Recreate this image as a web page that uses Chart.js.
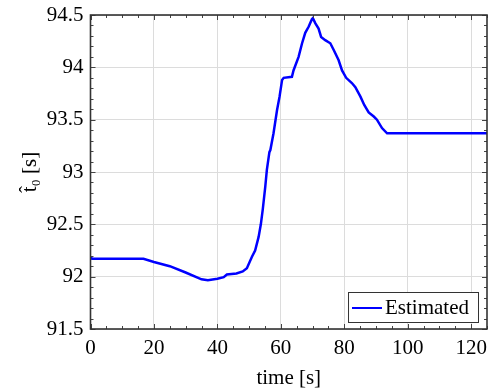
<!DOCTYPE html>
<html>
<head>
<meta charset="utf-8">
<script src="https://cdn.jsdelivr.net/npm/chart.js@4.4.0/dist/chart.umd.min.js"></script>
<style>
  html, body { margin: 0; padding: 0; background: #fff; }
  #wrap { width: 491px; height: 391px; }
</style>
</head>
<body>
<div id="wrap"><canvas id="t0_canvas" width="491" height="391"></canvas></div>
<script>
// data
const times = [0, 0.5, 16.7, 20, 25, 30, 35, 37, 40, 42, 43, 46, 48, 49.3, 50.9, 51.9, 53, 53.7, 54.3, 55.1, 55.6, 56.4, 56.7, 57.7, 58.8, 59.6, 60.4, 60.9, 63.5, 64, 65.6, 66.7, 67.7, 68.8, 69.8, 70.1, 70.9, 71.9, 72.7, 74, 75.6, 76.6, 78.2, 79.3, 80.6, 82.4, 83.5, 85.1, 86.3, 87.7, 89.3, 90.3, 91.9, 93.5, 125];
const estimated = [92.19, 92.17, 92.17, 92.14, 92.10, 92.04, 91.975, 91.966, 91.98, 91.995, 92.02, 92.03, 92.05, 92.08, 92.19, 92.25, 92.38, 92.5, 92.64, 92.86, 93.02, 93.19, 93.21, 93.37, 93.59, 93.72, 93.88, 93.90, 93.91, 93.97, 94.1, 94.23, 94.33, 94.39, 94.46, 94.47, 94.42, 94.37, 94.29, 94.26, 94.23, 94.17, 94.07, 93.97, 93.9, 93.85, 93.81, 93.72, 93.64, 93.57, 93.53, 93.50, 93.42, 93.37, 93.37];
const xMajor = [0, 20, 40, 60, 80, 100, 120];
const seriesLabel = "Estimated";

const serif = "'Liberation Serif', 'Times New Roman', serif";

// inward ticks on all four sides + frame
const frameTicks = {
  id: 'frameTicks',
  afterDatasetsDraw(chart) {
    const ctx = chart.ctx;
    const a = chart.chartArea;
    const xs = chart.scales.x, ys = chart.scales.y;
    ctx.save();
    ctx.strokeStyle = '#444';
    ctx.lineWidth = 1;
    for (let v = 0; v <= 125; v += 5) {
      const len = (v % 20 === 0) ? 5 : 3;
      const px = Math.round(xs.getPixelForValue(v)) + 0.5;
      ctx.beginPath();
      ctx.moveTo(px, a.bottom); ctx.lineTo(px, a.bottom - len);
      ctx.moveTo(px, a.top); ctx.lineTo(px, a.top + len);
      ctx.stroke();
    }
    for (let i = 0; i <= 30; i++) {
      const v = 91.5 + i * 0.1;
      const len = (i % 5 === 0) ? 5 : 3;
      const py = Math.round(ys.getPixelForValue(v)) + 0.5;
      ctx.beginPath();
      ctx.moveTo(a.left, py); ctx.lineTo(a.left + len, py);
      ctx.moveTo(a.right, py); ctx.lineTo(a.right - len, py);
      ctx.stroke();
    }
    ctx.strokeStyle = '#333';
    ctx.lineWidth = 1.6;
    ctx.strokeRect(a.left, a.top, a.right - a.left, a.bottom - a.top);
    ctx.restore();
  }
};

// legend box in lower right of the plot
const boxLegend = {
  id: 'boxLegend',
  afterDraw(chart) {
    const ctx = chart.ctx;
    const a = chart.chartArea;
    const ds = chart.data.datasets[0];
    ctx.save();
    ctx.font = '21px ' + serif;
    const tw = ctx.measureText(ds.label).width;
    const w = tw + 46, h = 30;
    const x = a.right - 9 - w, y = a.bottom - 7 - h;
    ctx.fillStyle = '#fff';
    ctx.fillRect(x, y, w, h);
    ctx.strokeStyle = '#333';
    ctx.lineWidth = 1;
    ctx.strokeRect(x + 0.5, y + 0.5, w, h);
    ctx.strokeStyle = ds.borderColor;
    ctx.lineWidth = 2;
    ctx.beginPath();
    ctx.moveTo(x + 4, y + h / 2 + 1); ctx.lineTo(x + 34, y + h / 2 + 1);
    ctx.stroke();
    ctx.fillStyle = '#000';
    ctx.textBaseline = 'middle';
    ctx.fillText(ds.label, x + 37, y + h / 2 + 1);
    ctx.restore();
  }
};

const t0_ctx = document.getElementById('t0_canvas').getContext('2d');
const t0_chart = new Chart(t0_ctx, {
  type: 'line',
  data: {
    datasets: [{
      label: seriesLabel,
      data: times.map((t, i) => ({ x: t, y: estimated[i] })),
      borderColor: '#0000ff',
      borderWidth: 2.5,
      pointRadius: 0,
      tension: 0,
      fill: false,
    }]
  },
  options: {
    responsive: false,
    animation: false,
    layout: { padding: { top: 15, right: 4, left: 0, bottom: 0 } },
    plugins: { legend: { display: false }, tooltip: { enabled: false } },
    scales: {
      x: {
        type: 'linear',
        min: 0, max: 125,
        afterBuildTicks: (s) => { s.ticks = xMajor.map(v => ({ value: v })); },
        afterFit: (s) => { s.height = 62; s.paddingLeft = 0; s.paddingRight = 0; },
        grid: { color: '#dcdcdc', lineWidth: 1, drawTicks: false },
        border: { display: false },
        ticks: { color: '#000', font: { family: serif, size: 21 }, padding: 7, maxRotation: 0 },
        title: { display: true, text: 'time [s]', color: '#000', font: { family: serif, size: 21 }, padding: { top: 0, bottom: 0 } }
      },
      y: {
        min: 91.5, max: 94.5,
        ticks: {
          stepSize: 0.5, color: '#000', font: { family: serif, size: 21 }, padding: 7,
          callback: (v) => String(Math.round(v * 10) / 10)
        },
        afterFit: (s) => { s.width = 90.5; s.paddingTop = 0; s.paddingBottom = 0; },
        grid: { color: '#dcdcdc', lineWidth: 1, drawTicks: false },
        border: { display: false },
        title: { display: true, text: 't\u0302\u2080 [s]', color: '#000', font: { family: serif, size: 21 }, padding: { top: 18, bottom: 4 } }
      }
    }
  },
  plugins: [frameTicks, boxLegend]
});
</script>
</body>
</html>
